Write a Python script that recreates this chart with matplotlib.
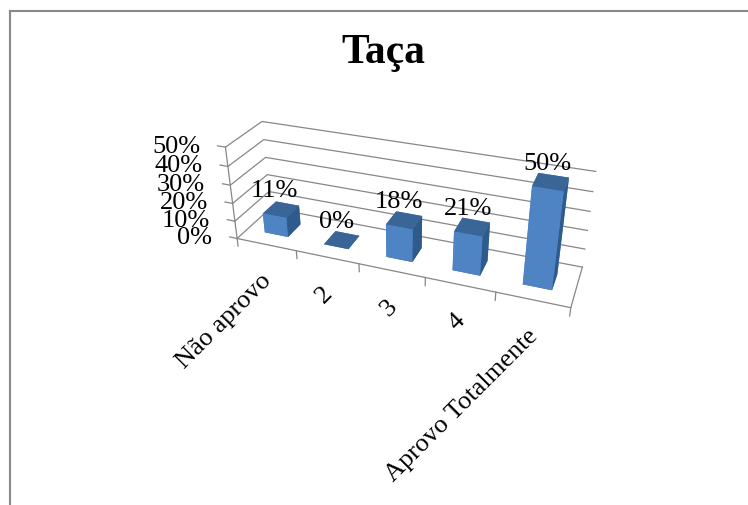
import numpy as np
import matplotlib
matplotlib.use('Agg')
import matplotlib.pyplot as plt
from matplotlib.lines import Line2D
from mpl_toolkits.mplot3d import proj3d

# Survey results for "Taça"
categories = ['Não aprovo', '2', '3', '4', 'Aprovo Totalmente']
values = [11, 0, 18, 21, 50]          # percent
value_ticks = [0, 10, 20, 30, 40, 50]

plt.rcParams['font.family'] = ['Liberation Serif', 'DejaVu Serif']

fig = plt.figure(figsize=(7.48, 5.06), dpi=100)

# Chart area border (left and top edges only are visible)
fig.add_artist(Line2D([9.5 / 748, 9.5 / 748], [0, 1 - 11.5 / 506], color='#8a8a8a', lw=1.5))
fig.add_artist(Line2D([9.5 / 748, 1], [1 - 11.5 / 506, 1 - 11.5 / 506], color='#8a8a8a', lw=1.5))

fig.text(0.513, 1 - 63.5 / 506, 'Taça', fontsize=30, fontweight='bold', ha='center', va='baseline')

# 3D column chart with perspective
ax = fig.add_axes([0.2758, 0.2175, 0.5160, 0.7224], projection='3d')
ax.set_proj_type('persp', focal_length=0.371)
ax.view_init(elev=28.8, azim=-69.7)
n = len(categories)
zmax = value_ticks[-1] / 100
ax.set_xlim(0, n)
ax.set_ylim(0, 1)
ax.set_zlim(0, zmax)
ax.set_box_aspect((5, 1.018, 1.505))
ax.set_axis_off()
ax.computed_zorder = False

grid_col = '#878787'
line_kw = dict(color=grid_col, lw=0.9, zorder=1, clip_on=False)
# gridlines on the side wall (x=0) and the back wall (y=1)
for t in value_ticks:
    z = t / 100
    ax.plot([0, 0, n], [0, 1, 1], [z, z, z], **line_kw)
    ax.plot([0, -0.13], [0, 0], [z, z], **line_kw)
# floor front and right edges, value axis line, category ticks
ax.plot([0, n, n], [0, 0, 1], [0, 0, 0], **line_kw)
ax.plot([0, 0], [0, 0], [0, zmax], **line_kw)
for k in range(n + 1):
    ax.plot([k, k], [0, 0], [0, -0.045], **line_kw)

# bars
bw = 0.4
xs = np.arange(n) + (1 - bw) / 2
ys = np.full(n, 0.3)
zs = np.zeros(n)
face_cols = []
for v in values:
    # bottom, top, front, back, left, right
    face_cols += ['#3a6597', '#3a6597', '#4f84c4', '#4f84c4', '#4f84c4', '#2f5a8c']
bars = ax.bar3d(xs, ys, zs, bw, 0.4, np.array(values) / 100, color=face_cols,
                shade=False, linewidth=0, zorder=2)
bars.set_clip_on(False)

M = ax.get_proj()

def to2d(x, y, z):
    px, py, _ = proj3d.proj_transform(x, y, z, M)
    return px, py

# value axis labels
for t in value_ticks:
    ax.annotate(f'{t}%', xy=to2d(0, 0, t / 100), xytext=(-25, 1), textcoords='offset pixels',
                ha='right', va='center', fontsize=19, zorder=3, annotation_clip=False)

# data labels above the front edge of each bar top
for i, v in enumerate(values):
    ax.annotate(f'{v}%', xy=to2d(i + 0.5, 0.3, v / 100), xytext=(0, 20), textcoords='offset pixels',
                ha='center', va='baseline', fontsize=19, zorder=3, annotation_clip=False)

# category labels
for i, c in enumerate(categories):
    ax.annotate(c, xy=to2d(i + 0.5, 0, 0), xytext=(-6, -24), textcoords='offset pixels',
                ha='right', va='top', rotation=45, rotation_mode='anchor', fontsize=19,
                zorder=3, annotation_clip=False)

fig.savefig('out.png', dpi=100)
